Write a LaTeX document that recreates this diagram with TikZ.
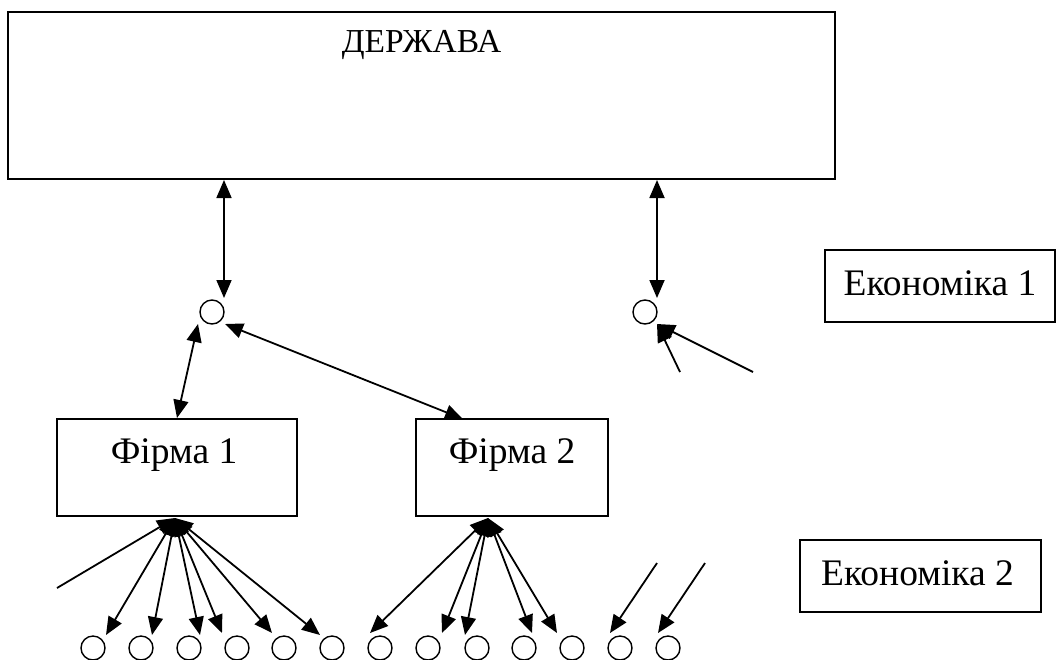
\documentclass[tikz,border=0pt]{standalone}
\usepackage{fontspec}
\setmainfont{Liberation Serif}
\usetikzlibrary{arrows.meta}
\begin{document}
\begin{tikzpicture}[x=1pt,y=-1pt,
  box/.style={draw, line width=1.6pt, inner sep=0pt, rectangle},
  dot/.style={draw, circle, line width=1.4pt, minimum size=24pt, inner sep=0pt},
  arr/.style={line width=1.8pt, -{Triangle[length=18pt,width=15pt]}},
  darr/.style={line width=1.8pt, {Triangle[length=18pt,width=15pt]}-{Triangle[length=18pt,width=15pt]}},
  lbl/.style={anchor=base, inner sep=0pt, font=\fontsize{37.5}{42}\selectfont}]
\useasboundingbox (0,0) rectangle (1056,659);

% boxes
\node[box, minimum width=827pt, minimum height=167pt] (st) at (421.5,95.5) {};
\node[lbl, font=\fontsize{33.5}{38}\selectfont] (stt) at (421.5,52) {ДЕРЖАВА};
\node[box, minimum width=230pt, minimum height=72pt] (e1) at (940,286) {};
\node[lbl] (e1t) at (940,295) {Економіка 1};
\node[box, minimum width=241pt, minimum height=72pt] (e2) at (920.5,576) {};
\node[lbl] (e2t) at (917.5,585) {Економіка 2};
\node[box, minimum width=240pt, minimum height=97pt] (f1) at (177,467.5) {};
\node[lbl] (f1t) at (174,463) {Фірма 1};
\node[box, minimum width=192pt, minimum height=97pt] (f2) at (512,467.5) {};
\node[lbl] (f2t) at (512,463) {Фірма 2};

% circles
\node[dot] (c1) at (212,312) {};
\node[dot] (c2) at (645,312) {};
\foreach \x [count=\i] in {93,141,189,237,284,332,380,428,477,524,572,620,668}
  \node[dot] (b\i) at (\x,648) {};

% endpoint coordinates
\coordinate (s1) at (224,180);
\coordinate (c1t) at (224,298);
\coordinate (s2) at (657,180);
\coordinate (c2t) at (657,298);
\coordinate (c1l) at (198,324);
\coordinate (f1a) at (177,418);
\coordinate (c1r) at (225,324);
\coordinate (f2a) at (463,419);
\coordinate (c2b) at (657,324);
\coordinate (r1) at (680,372);
\coordinate (r2) at (753,372);
\coordinate (f1b) at (175,518);
\coordinate (f2b) at (488,518);
\coordinate (l1) at (57,588);
\coordinate (q1) at (657,563);
\coordinate (q2) at (705,563);
\coordinate (t1) at (106,635);
\coordinate (t2) at (152,635);
\coordinate (t3) at (200,635);
\coordinate (t4) at (222,633);
\coordinate (t5) at (272,633);
\coordinate (t6) at (320,635);
\coordinate (u1) at (370,633);
\coordinate (u2) at (442,633);
\coordinate (u3) at (465,635);
\coordinate (u4) at (532,633);
\coordinate (u5) at (557,633);
\coordinate (u6) at (610,633);
\coordinate (u7) at (658,633);

% connectors
\draw[darr] (s1) -- (c1t);
\draw[darr] (s2) -- (c2t);
\draw[darr] (c1l) -- (f1a);
\draw[darr] (c1r) -- (f2a);
\draw[arr] (r1) -- (c2b);
\draw[arr] (r2) -- (c2b);
\draw[arr] (l1) -- (f1b);
\foreach \t in {t1,t2,t3,t4,t5,t6}
  \draw[darr] (f1b) -- (\t);
\foreach \t in {u1,u2,u3,u4,u5}
  \draw[darr] (f2b) -- (\t);
\draw[arr] (q1) -- (u6);
\draw[arr] (q2) -- (u7);
\end{tikzpicture}
\end{document}
